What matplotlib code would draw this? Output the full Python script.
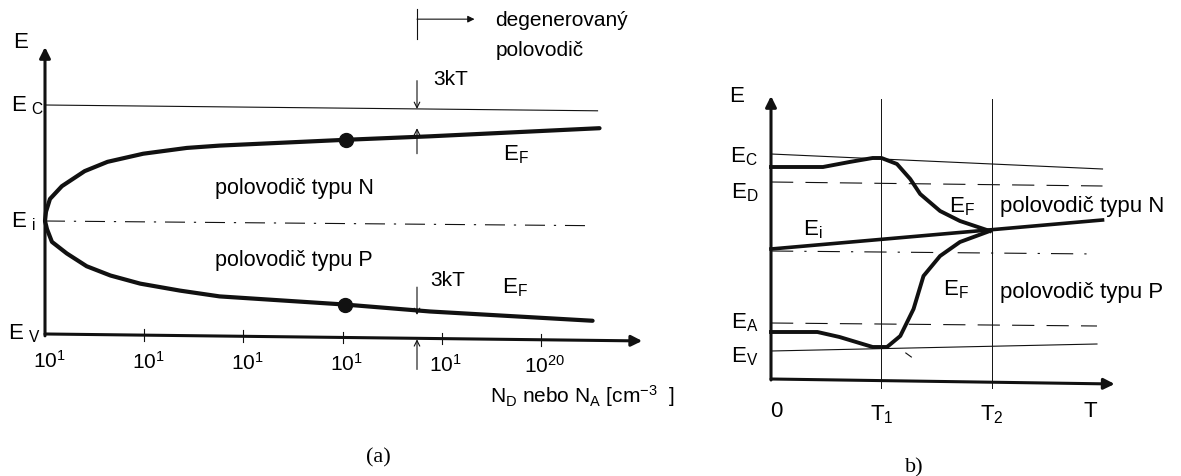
import matplotlib.pyplot as plt

plt.rcParams['font.family'] = ['Liberation Sans', 'DejaVu Sans']
plt.rcParams['mathtext.default'] = 'regular'

# ---- panel (a): Fermi level vs doping (tick index on x, energy with Ei = 0, Ec = 1)
ef_n_x = [0, 0.01, 0.05, 0.17, 0.40, 0.63, 0.99, 1.43, 1.76, 3.03, 3.88, 5.59]
ef_n_y = [0, 0.08, 0.19, 0.30, 0.43, 0.51, 0.58, 0.63, 0.65, 0.70, 0.73, 0.80]
ef_p_x = [0, 0.02, 0.07, 0.22, 0.42, 0.66, 0.96, 1.36, 1.76, 3.02, 3.88, 5.52]
ef_p_y = [0, -0.07, -0.18, -0.28, -0.39, -0.47, -0.54, -0.60, -0.65, -0.72, -0.78, -0.86]
ec_a_x = [0, 5.57]
ec_a_y = [1.0, 0.95]
ei_a_x = [0, 5.46]
ei_a_y = [0, -0.04]
dot_a_x = [3.03, 3.02]
dot_a_y = [0.70, -0.72]
xaxis_a_x = [0, 6.02]
xaxis_a_y = [-0.974, -1.034]
ticks_a = [0, 1, 2, 3, 4, 5]
tick_labels_a = ['$10^1$', '$10^1$', '$10^1$', '$10^1$', '$10^1$', '$10^{20}$']
kT_x = 3.75  # boundary of degenerate semiconductor

# ---- panel (b): Fermi level vs temperature (T1 = 1, T2 = 2)
ec_b_x, ec_b_y = [0, 3.0], [0.97, 0.82]
ed_b_x, ed_b_y = [0, 3.0], [0.69, 0.65]
ei_b_x, ei_b_y = [0, 3.0], [0.02, 0.31]
mid_b_x, mid_b_y = [0, 2.95], [0.0, -0.03]
ea_b_x, ea_b_y = [0, 2.95], [-0.72, -0.75]
ev_b_x, ev_b_y = [0, 2.95], [-1.0, -0.93]
efn_b_x = [0, 0.47, 0.71, 0.92, 1.0, 1.14, 1.26, 1.35, 1.53, 1.71, 1.98]
efn_b_y = [0.84, 0.84, 0.89, 0.93, 0.93, 0.87, 0.72, 0.57, 0.40, 0.30, 0.20]
efp_b_x = [0, 0.42, 0.62, 0.92, 1.05, 1.17, 1.29, 1.38, 1.53, 1.71, 1.98]
efp_b_y = [-0.81, -0.81, -0.86, -0.96, -0.96, -0.85, -0.58, -0.25, -0.05, 0.09, 0.20]
t_marks = [1.0, 2.0]
t_labels = ['$T_1$', '$T_2$']

ink = '#111111'
fig = plt.figure(figsize=(11.81, 4.77), dpi=100)

# ---------------- (a)
ax = fig.add_axes([0, 0, 660 / 1181, 1])
ax.set_xlim(-45 / 99.2, 615 / 99.2)
ax.set_ylim(-255 / 116, 222 / 116)
ax.axis('off')

ax.plot(ec_a_x, ec_a_y, color=ink, lw=0.8)
ax.plot(ei_a_x, ei_a_y, color=ink, lw=0.8, ls=(0, (18, 8, 2, 8)))
ax.plot(ef_n_x, ef_n_y, color=ink, lw=3, solid_capstyle='round', solid_joinstyle='round')
ax.plot(ef_p_x, ef_p_y, color=ink, lw=3, solid_capstyle='round', solid_joinstyle='round')
ax.plot(dot_a_x, dot_a_y, 'o', color=ink, ms=10)

# axes with arrows
ax.annotate('', xy=(xaxis_a_x[1], xaxis_a_y[1]), xytext=(xaxis_a_x[0], xaxis_a_y[0]),
            arrowprops=dict(arrowstyle='-|>', color=ink, lw=2.2, mutation_scale=16, shrinkA=0, shrinkB=0))
ax.annotate('', xy=(0, 1.5), xytext=(0, -0.99),
            arrowprops=dict(arrowstyle='-|>', color=ink, lw=2.2, mutation_scale=16, shrinkA=0, shrinkB=0))
slope = (xaxis_a_y[1] - xaxis_a_y[0]) / xaxis_a_x[1]
for t, lab in zip(ticks_a, tick_labels_a):
    y0 = xaxis_a_y[0] + slope * t
    if t > 0:
        ax.plot([t, t], [y0 - 0.05, y0 + 0.05], color=ink, lw=0.8)
    ax.text(t + 0.04, y0 - 0.22, lab, fontsize=15, ha='center', va='center')

# 3kT markers
arr = dict(arrowstyle='->', color=ink, lw=0.8, shrinkA=0, shrinkB=0)
ax.annotate('', xy=(kT_x, 0.966), xytext=(kT_x, 1.21), arrowprops=arr)
ax.annotate('', xy=(kT_x, 0.80), xytext=(kT_x, 0.58), arrowprops=arr)
ax.annotate('', xy=(kT_x, -0.81), xytext=(kT_x, -0.57), arrowprops=arr)
ax.annotate('', xy=(kT_x, -1.02), xytext=(kT_x, -1.28), arrowprops=arr)
ax.plot([kT_x, kT_x], [1.57, 1.83], color=ink, lw=0.8)
ax.annotate('', xy=(4.33, 1.74), xytext=(kT_x, 1.74),
            arrowprops=dict(arrowstyle='-|>', color=ink, lw=0.8, shrinkA=0, shrinkB=0, mutation_scale=10))

ax.text(4.54, 1.74, 'degenerovaný', fontsize=15, va='center')
ax.text(4.54, 1.48, 'polovodič', fontsize=15, va='center')
ax.text(3.91, 1.23, '3kT', fontsize=15, va='center')
ax.text(3.88, -0.50, '3kT', fontsize=15, va='center')
ax.text(4.62, 0.58, '$E_F$', fontsize=16, va='center')
ax.text(4.61, -0.57, '$E_F$', fontsize=16, va='center')
ax.text(1.71, 0.29, 'polovodič typu N', fontsize=15.5, va='center')
ax.text(1.71, -0.33, 'polovodič typu P', fontsize=15.5, va='center')
ax.text(-0.25, 1.55, 'E', fontsize=16, ha='center', va='center')
ax.text(-0.34, 1.0, '$E_{\\ C}$', fontsize=16, va='center')
ax.text(-0.34, 0.0, '$E_{\\ i}$', fontsize=16, va='center')
ax.text(-0.37, -0.96, '$E_{\\ V}$', fontsize=16, va='center')
ax.text(4.49, -1.50, '$N_D$ nebo $N_A$ [cm$^{-3}$  ]', fontsize=15, va='center')
ax.text(3.36, -2.03, '(a)', fontsize=16, ha='center', va='center', family='Liberation Serif')

# ---------------- (b)
bx = fig.add_axes([690 / 1181, 0, 491 / 1181, 1])
bx.set_xlim(-81 / 110.5, 410 / 110.5)
bx.set_ylim(-2.25, 2.52)
bx.axis('off')

bx.plot(ec_b_x, ec_b_y, color=ink, lw=0.8)
bx.plot(ev_b_x, ev_b_y, color=ink, lw=0.8)
bx.plot(ed_b_x, ed_b_y, color=ink, lw=0.8, ls=(0, (20, 11)))
bx.plot(ea_b_x, ea_b_y, color=ink, lw=0.8, ls=(0, (20, 11)))
bx.plot(mid_b_x, mid_b_y, color=ink, lw=0.8, ls=(0, (20, 10, 2, 10)))
bx.plot(ei_b_x, ei_b_y, color=ink, lw=2.6)
bx.plot(efn_b_x, efn_b_y, color=ink, lw=2.8, solid_joinstyle='round')
bx.plot(efp_b_x, efp_b_y, color=ink, lw=2.8, solid_joinstyle='round')
bx.plot([1.22, 1.27], [-1.02, -1.06], color=ink, lw=0.8)

for t, lab in zip(t_marks, t_labels):
    bx.plot([t, t], [1.52, -1.37], color=ink, lw=0.7)
    bx.text(t, -1.63, lab, fontsize=16, ha='center', va='center')

bx.annotate('', xy=(3.11, -1.33), xytext=(0, -1.28),
            arrowprops=dict(arrowstyle='-|>', color=ink, lw=2.2, mutation_scale=16, shrinkA=0, shrinkB=0))
bx.annotate('', xy=(0, 1.55), xytext=(0, -1.29),
            arrowprops=dict(arrowstyle='-|>', color=ink, lw=2.2, mutation_scale=16, shrinkA=0, shrinkB=0))

bx.text(-0.31, 1.55, 'E', fontsize=16, ha='center', va='center')
bx.text(-0.25, 0.95, '$E_C$', fontsize=16, ha='center', va='center')
bx.text(-0.24, 0.59, '$E_D$', fontsize=16, ha='center', va='center')
bx.text(-0.24, -0.71, '$E_A$', fontsize=16, ha='center', va='center')
bx.text(-0.24, -1.05, '$E_V$', fontsize=16, ha='center', va='center')
bx.text(0.38, 0.22, '$E_i$', fontsize=16, ha='center', va='center')
bx.text(1.73, 0.45, '$E_F$', fontsize=16, ha='center', va='center')
bx.text(1.67, -0.38, '$E_F$', fontsize=16, ha='center', va='center')
bx.text(2.07, 0.45, 'polovodič typu N', fontsize=16, va='center')
bx.text(2.07, -0.41, 'polovodič typu P', fontsize=16, va='center')
bx.text(0.05, -1.60, '0', fontsize=16, ha='center', va='center')
bx.text(2.89, -1.60, 'T', fontsize=16, ha='center', va='center')
bx.text(1.30, -2.16, 'b)', fontsize=16, ha='center', va='center', family='Liberation Serif')

fig.savefig('out.png', dpi=100)
